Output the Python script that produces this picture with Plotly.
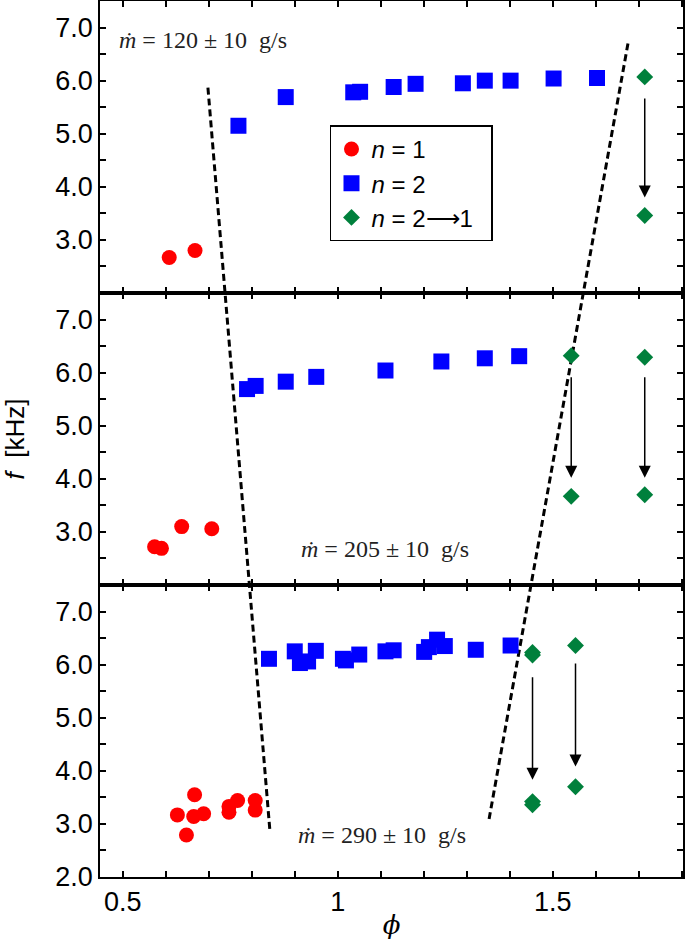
import plotly.graph_objects as go
from plotly.subplots import make_subplots

# ---------------- data ----------------
# panel 1: m_dot = 120 g/s
p1_n1_x = [0.608, 0.668]
p1_n1_y = [2.67, 2.80]
p1_n2_x = [0.769, 0.879, 1.036, 1.052, 1.130, 1.181, 1.291, 1.342, 1.402, 1.502, 1.603]
p1_n2_y = [5.15, 5.69, 5.78, 5.79, 5.88, 5.94, 5.95, 6.00, 6.00, 6.04, 6.05]
p1_n21_x = [1.714, 1.714]
p1_n21_y = [6.07, 3.46]

# panel 2: m_dot = 205 g/s
p2_n1_x = [0.574, 0.590, 0.637, 0.707]
p2_n1_y = [2.72, 2.69, 3.10, 3.06]
p2_n2_x = [0.789, 0.809, 0.879, 0.950, 1.111, 1.241, 1.342, 1.422]
p2_n2_y = [5.69, 5.75, 5.83, 5.92, 6.04, 6.21, 6.27, 6.31]
p2_n21_x = [1.543, 1.714, 1.543, 1.714]
p2_n21_y = [6.32, 6.29, 3.67, 3.70]

# panel 3: m_dot = 290 g/s
p3_n1_x = [0.627, 0.667, 0.665, 0.688, 0.648, 0.747, 0.747, 0.767, 0.808, 0.808]
p3_n1_y = [3.17, 3.55, 3.14, 3.19, 2.79, 3.33, 3.22, 3.44, 3.44, 3.26]
p3_n2_x = [0.840, 0.900, 0.912, 0.931, 0.949, 1.012, 1.019, 1.050, 1.111, 1.130,
           1.201, 1.212, 1.231, 1.249, 1.321, 1.402]
p3_n2_y = [6.11, 6.25, 6.03, 6.06, 6.26, 6.11, 6.08, 6.19, 6.25, 6.27,
           6.24, 6.33, 6.47, 6.35, 6.28, 6.36]
p3_n21_x = [1.453, 1.453, 1.553, 1.453, 1.453, 1.553]
p3_n21_y = [6.23, 6.18, 6.36, 3.42, 3.36, 3.70]

# transition arrows: (x, y_start, y_end) per panel
arrows_p1 = [(1.714, 5.69, 3.80)]
arrows_p2 = [(1.543, 5.94, 4.02), (1.714, 5.94, 4.02)]
arrows_p3 = [(1.453, 5.79, 3.83), (1.553, 6.05, 4.08)]

# dashed boundary lines: start in top panel, end in bottom panel
left_line = dict(x=[0.698, 0.842], panel=[1, 3], y=[5.87, 2.887])
right_line = dict(x=[1.675, 1.352], panel=[1, 3], y=[6.70, 3.094])

labels = ["<i>ṁ</i> = 120 ± 10  g/s", "<i>ṁ</i> = 205 ± 10  g/s", "<i>ṁ</i> = 290 ± 10  g/s"]
label_pos = [(0.486, 6.76), (0.910, 2.68), (0.903, 2.80)]

x_ticks = [0.5, 1, 1.5]
x_ticktext = ["0.5", "1", "1.5"]
Y_MIN, Y_MAX = 2.0, 7.5
X_MIN, X_MAX = 0.447, 1.803

RED, BLUE, GREEN = "#FF0000", "#0000FF", "#00803C"

fig = make_subplots(rows=3, cols=1, shared_xaxes=True, vertical_spacing=0)

panels = [
    (p1_n1_x, p1_n1_y, p1_n2_x, p1_n2_y, p1_n21_x, p1_n21_y, arrows_p1),
    (p2_n1_x, p2_n1_y, p2_n2_x, p2_n2_y, p2_n21_x, p2_n21_y, arrows_p2),
    (p3_n1_x, p3_n1_y, p3_n2_x, p3_n2_y, p3_n21_x, p3_n21_y, arrows_p3),
]

span = Y_MAX - Y_MIN
for i, (ax_, ay_, bx, by, gx, gy, arrs) in enumerate(panels):
    row = i + 1
    # dashed lines (global coordinate: each panel above adds one span)
    for ln in (left_line, right_line):
        ys = [ln["y"][k] + (ln["panel"][k] - row) * (-span) for k in range(2)]
        fig.add_trace(go.Scatter(x=ln["x"], y=ys, mode="lines",
                                 line=dict(color="black", width=3, dash="7px,4px"),
                                 showlegend=False, hoverinfo="skip"), row=row, col=1)
    fig.add_trace(go.Scatter(x=ax_, y=ay_, mode="markers", name="<i>n</i> = 1",
                             marker=dict(symbol="circle", size=15, color=RED),
                             showlegend=(row == 1), legendrank=1), row=row, col=1)
    fig.add_trace(go.Scatter(x=bx, y=by, mode="markers", name="<i>n</i> = 2",
                             marker=dict(symbol="square", size=16, color=BLUE),
                             showlegend=(row == 1), legendrank=2), row=row, col=1)
    fig.add_trace(go.Scatter(x=gx, y=gy, mode="markers", name="<i>n</i> = 2⟶1\u00a0\u00a0",
                             marker=dict(symbol="diamond", size=13, color=GREEN),
                             showlegend=(row == 1), legendrank=3), row=row, col=1)
    xr = "x" if row == 1 else f"x{row}"
    yr = "y" if row == 1 else f"y{row}"
    for (xa, y0, y1) in arrs:
        fig.add_annotation(x=xa, y=y1, ax=xa, ay=y0, xref=xr, yref=yr, axref=xr, ayref=yr,
                           text="", showarrow=True, arrowhead=2, arrowsize=1.6,
                           arrowwidth=1.5, arrowcolor="black", standoff=0)
    lx, ly = label_pos[i]
    fig.add_annotation(x=lx, y=ly, xref=xr, yref=yr, text=labels[i], showarrow=False,
                       xanchor="left", yanchor="middle",
                       font=dict(family="Liberation Serif, Times New Roman, serif", size=24, color="#222"))

axis_common = dict(showline=True, linewidth=1.5, linecolor="black", mirror="allticks",
                   ticks="inside", ticklen=6, tickwidth=1.5, tickcolor="black",
                   showgrid=False, zeroline=False, automargin=False)

for row in (1, 2, 3):
    fig.update_xaxes(range=[X_MIN, X_MAX], tickvals=x_ticks, ticktext=x_ticktext,
                     minor=dict(dtick=0.1, tick0=0.5, ticks="inside", ticklen=6,
                                tickwidth=1.5, tickcolor="black"),
                     tickfont=dict(family="Arial, Liberation Sans, sans-serif", size=27, color="black"),
                     row=row, col=1, **axis_common)
    yt = [3, 4, 5, 6, 7] if row < 3 else [2, 3, 4, 5, 6, 7]
    fig.update_yaxes(range=[Y_MIN, Y_MAX], tickvals=yt, tickformat=".1f",
                     minor=dict(dtick=0.5, tick0=2.0, ticks="inside", ticklen=6,
                                tickwidth=1.5, tickcolor="black"),
                     tickfont=dict(family="Arial, Liberation Sans, sans-serif", size=27, color="black"),
                     row=row, col=1, **axis_common)

fig.update_xaxes(showticklabels=False, row=1, col=1)
fig.update_xaxes(showticklabels=False, row=2, col=1)
fig.update_xaxes(title=dict(text="<i>ϕ</i>", font=dict(family="DejaVu Serif, Liberation Serif, serif",
                                                       size=26, color="black"), standoff=0), row=3, col=1)
fig.update_yaxes(title=dict(text="<i>f</i>  [kHz]", font=dict(family="Arial, Liberation Sans, sans-serif",
                                                             size=26, color="black"), standoff=30), row=2, col=1)

fig.update_layout(
    width=685, height=941,
    margin=dict(l=100, r=2, t=1, b=64),
    plot_bgcolor="white", paper_bgcolor="white",
    legend=dict(x=0.3945, y=0.858, xanchor="left", yanchor="top",
                bordercolor="black", borderwidth=1.5, bgcolor="white",
                font=dict(family="Arial, Liberation Sans, sans-serif", size=24, color="black"),
                itemwidth=30, tracegroupgap=0),
    showlegend=True,
)

fig.write_html("out.html", config={"displayModeBar": False},
               post_script="document.body.style.margin='0';document.body.style.padding='0';"
                           "document.documentElement.style.overflow='hidden';")
